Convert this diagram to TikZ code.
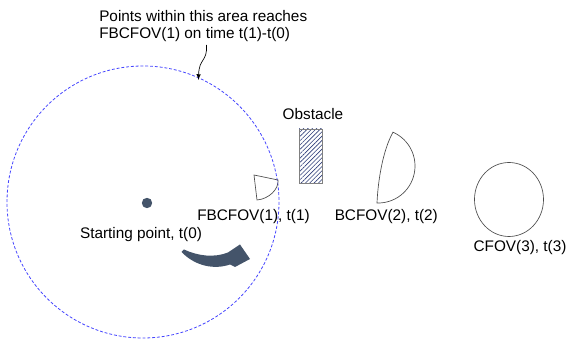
\documentclass[tikz,border=0pt]{standalone}
\usepackage{fontspec}
\setmainfont{Liberation Sans}
\usetikzlibrary{patterns.meta}
\definecolor{slateblue}{RGB}{68,84,106}
\definecolor{rimblue}{RGB}{70,70,255}
\definecolor{hatchblue}{RGB}{45,60,120}
\begin{document}
\begin{tikzpicture}[x=0.75pt,y=-0.75pt,>=latex,
  lbl/.style={inner sep=0pt,font=\fontsize{11.5}{12.75}\selectfont},
  fov/.style={draw=black!70,line width=0.5pt}]
 \useasboundingbox (0,0) rectangle (569,341);
 \draw[rimblue,line width=0.6pt,dash pattern=on 2.2pt off 1.4pt] (143,202) circle (136);
 \fill[slateblue] (147,203) circle (5.2);
 \fill[slateblue] (184,249.5) .. controls (198,256) and (214,258) .. (228,252.5)
   -- (240,244.5) -- (250,259) -- (235,267) -- (230,264.5)
   .. controls (214,270) and (195,266) .. (181.5,252) -- cycle;
 \draw[fov] (254,175) -- (278,180) .. controls (279,189) and (269,199) .. (257,200) -- cycle;
 \draw[draw=gray,line width=0.6pt,fill=blue!8,
   pattern={Lines[angle=45,distance=2.3pt,line width=0.45pt]},pattern color=hatchblue]
   (299,129) rectangle (322,183);
 \draw[fov] (393,132.2) .. controls (409.2,139.4) and (418,156.9) .. (414.1,174.2)
   .. controls (410.2,191.5) and (394.7,203.5) .. (377,203)
   .. controls (378,180) and (383,150) .. cycle;
 \draw[fov] (509,199.5) ellipse[x radius=34.5,y radius=37];
 \node[lbl,anchor=west,align=left] (note) at (99,26.5)
   {Points within this area reaches\\FBCFOV(1) on time t(1)-t(0)};
 \coordinate (notetail) at (206.5,45);
 \coordinate (rim) at (198.5,80);
 \draw[->,line width=0.5pt] (notetail) .. controls (207.5,62) and (199,58) .. (rim);
 \node[lbl] (obstlbl) at (313,114) {Obstacle};
 \node[lbl] (startlbl) at (141,235) {Starting point, t(0)};
 \node[lbl] (fov1) at (253.5,217) {FBCFOV(1), t(1)};
 \node[lbl] (fov2) at (386.3,217) {BCFOV(2), t(2)};
 \node[lbl] (fov3) at (520,248) {CFOV(3), t(3)};
\end{tikzpicture}
\end{document}
